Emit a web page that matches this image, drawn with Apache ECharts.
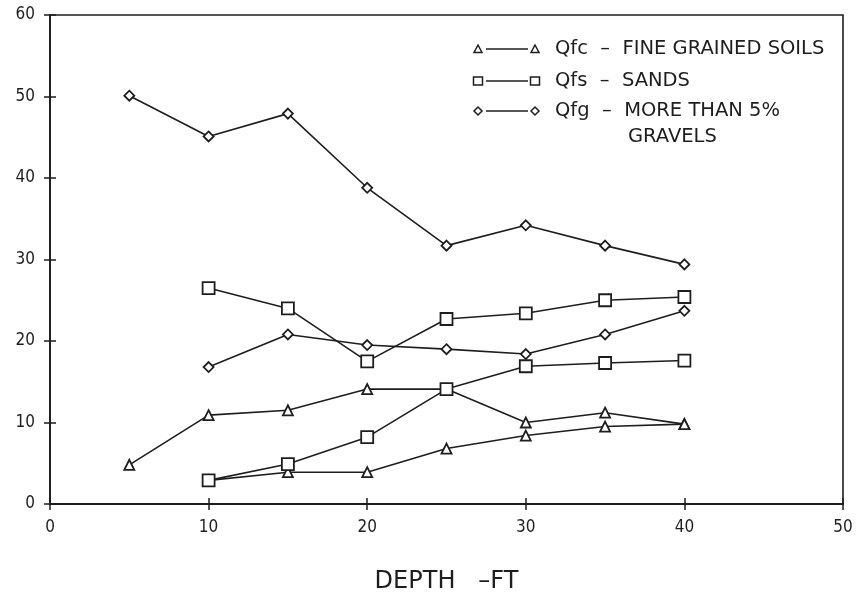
<!DOCTYPE html>
<html>
<head>
<meta charset="utf-8">
<script src="https://cdn.jsdelivr.net/npm/echarts@6/dist/echarts.min.js"></script>
<style>
html,body{margin:0;padding:0;background:#fff;}
#chart{width:857px;height:596px;}
</style>
</head>
<body>
<div id="chart"></div>
<script>
const depth = [5, 10, 15, 20, 25, 30, 35, 40];
const qfcUpper = [4.8, 10.9, 11.5, 14.1, 14.1, 10.0, 11.2, 9.8];
const qfcLower = [null, 2.9, 3.9, 3.9, 6.8, 8.4, 9.5, 9.8];
const qfsUpper = [null, 26.5, 24.0, 17.5, 22.7, 23.4, 25.0, 25.4];
const qfsLower = [null, 2.9, 4.9, 8.2, 14.1, 16.9, 17.3, 17.6];
const qfgUpper = [50.1, 45.1, 47.9, 38.8, 31.7, 34.2, 31.7, 29.4];
const qfgLower = [null, 16.8, 20.8, 19.5, 19.0, 18.4, 20.8, 23.7];
const legendLines = ['Qfc  –  FINE GRAINED SOILS', 'Qfs  –  SANDS', 'Qfg  –  MORE THAN 5%', 'GRAVELS'];
const xTitle = 'DEPTH   –FT';

const FONT_C = "'DejaVu Sans Condensed','Liberation Sans Narrow','DejaVu Sans',sans-serif";
const FONT = "'DejaVu Sans',sans-serif";
const INK = '#1e1e1e';

function pairs(vals) {
  const out = [];
  depth.forEach((d, i) => { if (vals[i] !== null) out.push([d, vals[i]]); });
  return out;
}
function mk(name, vals, symbol, size) {
  return {
    name: name, type: 'line', data: pairs(vals),
    symbol: symbol, symbolSize: size, showAllSymbol: true,
    lineStyle: {color: INK, width: 1.6},
    itemStyle: {color: '#fff', borderColor: INK, borderWidth: 1.8},
    z: 5
  };
}

const chart = echarts.init(document.getElementById('chart'), null, {renderer: 'canvas'});

const axBase = {
  type: 'value', min: 0, max: 50, interval: 10
};
const legendY = [49, 81, 111];
const legendSym = ['triangle', 'rect', 'diamond'];
const legendGraphics = [];
function symShape(kind, cx, cy) {
  const st = {fill: '#fff', stroke: INK, lineWidth: 1.5};
  if (kind === 'triangle') return {type: 'polygon', shape: {points: [[cx, cy - 4], [cx + 4, cy + 3.5], [cx - 4, cy + 3.5]]}, style: st, z: 10};
  if (kind === 'rect') return {type: 'rect', shape: {x: cx - 4.5, y: cy - 4, width: 9, height: 8}, style: st, z: 10};
  return {type: 'polygon', shape: {points: [[cx, cy - 4], [cx + 4, cy], [cx, cy + 4], [cx - 4, cy]]}, style: st, z: 10};
}
legendY.forEach((y, i) => {
  legendGraphics.push({type: 'line', shape: {x1: 486, y1: y, x2: 528, y2: y}, style: {stroke: INK, lineWidth: 1.6}, z: 9});
  legendGraphics.push(symShape(legendSym[i], 478, y));
  legendGraphics.push(symShape(legendSym[i], 535, y));
  legendGraphics.push({type: 'text', x: 555, y: y, style: {text: legendLines[i], fill: INK, font: '19.5px ' + FONT, verticalAlign: 'middle'}, z: 10});
});
legendGraphics.push({type: 'text', x: 628, y: 137, style: {text: legendLines[3], fill: INK, font: '19.5px ' + FONT, verticalAlign: 'middle'}, z: 10});

chart.setOption({
  animation: false,
  backgroundColor: '#fff',
  grid: {left: 50, right: 14, top: 15, bottom: 92, containLabel: false, outerBoundsMode: 'none', show: true, borderColor: INK, borderWidth: 1.6, backgroundColor: 'transparent'},
  xAxis: [
    Object.assign({}, axBase, {
      position: 'bottom',
      axisLine: {show: true, lineStyle: {color: INK, width: 1.8}},
      axisTick: {show: true, inside: false, length: 6, lineStyle: {color: INK, width: 1.5}},
      axisLabel: {color: INK, fontSize: 17, fontFamily: FONT_C, margin: 15},
      splitLine: {show: false},
      name: xTitle, nameLocation: 'middle', nameGap: 66,
      nameTextStyle: {color: INK, fontSize: 24, fontFamily: FONT}
    }),
    Object.assign({}, axBase, {
      position: 'bottom',
      axisLine: {show: false},
      axisTick: {show: true, inside: true, length: 6, lineStyle: {color: INK, width: 1.5}},
      axisLabel: {show: false},
      splitLine: {show: false}
    })
  ],
  yAxis: [
    {
      type: 'value', min: 0, max: 60, interval: 10, position: 'left',
      axisLine: {show: true, lineStyle: {color: INK, width: 1.8}},
      axisTick: {show: true, inside: false, length: 6, lineStyle: {color: INK, width: 1.5}},
      axisLabel: {color: INK, fontSize: 17, fontFamily: FONT_C, margin: 15},
      splitLine: {show: false}
    },
    {
      type: 'value', min: 0, max: 60, interval: 10, position: 'left',
      axisLine: {show: false},
      axisTick: {show: true, inside: true, length: 6, lineStyle: {color: INK, width: 1.5}},
      axisLabel: {show: false},
      splitLine: {show: false}
    }
  ],
  series: [
    mk('Qfc', qfcUpper, 'triangle', 10),
    mk('Qfc', qfcLower, 'triangle', 10),
    mk('Qfs', qfsUpper, 'rect', 12),
    mk('Qfs', qfsLower, 'rect', 12),
    mk('Qfg', qfgUpper, 'diamond', 10),
    mk('Qfg', qfgLower, 'diamond', 10)
  ],
  graphic: legendGraphics
});
</script>
</body>
</html>
